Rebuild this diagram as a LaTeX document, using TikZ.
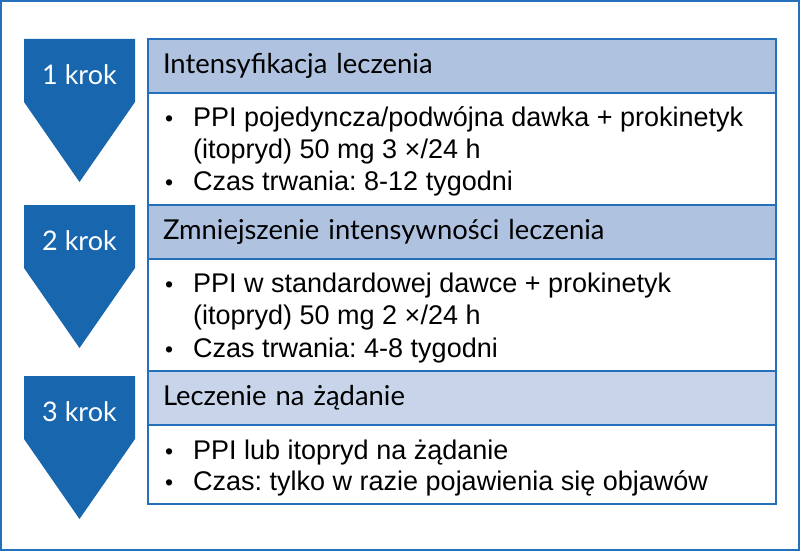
\documentclass[tikz,border=0pt]{standalone}
\usepackage{fontspec}
\setmainfont{Liberation Sans}
\newfontfamily\naglfont{Lato}
\frenchspacing
\definecolor{krokblue}{HTML}{1766AE}
\definecolor{ramka}{HTML}{2470BA}
\definecolor{nagl}{HTML}{AFC3E1}
\definecolor{naglj}{HTML}{C7D4EA}

\begin{document}
\begin{tikzpicture}
        [x=1pt,y=-1pt,
        kroklabel/.style={text=white,font=\naglfont\fontsize{27}{27}\selectfont},
        naglowek/.style={draw=ramka,line width=1.5pt,fill=nagl,anchor=north west,
            minimum width=628pt,minimum height=54pt,text width=598pt,inner xsep=15pt,
            align=left,outer sep=0pt,font=\naglfont\fontsize{27.4}{27.4}\selectfont},
        tresc/.style={draw=ramka,line width=1.5pt,fill=white,anchor=north west,
            minimum width=628pt,outer sep=0pt},
        linia/.style={anchor=base west,inner sep=0pt,font=\fontsize{27}{27}\selectfont},
        kropka/.style={anchor=base west,inner sep=0pt,font=\fontsize{23}{23}\selectfont}]
        \useasboundingbox (0,0) rectangle (800,551);
        \draw[ramka,line width=2pt] (1,1) rectangle (799,550);

        % strzalki z krokami
        \foreach \y/\k in {39/1,205/2,376/3} {
            \fill[krokblue] (24,\y) -- ++(111,0) -- ++(0,63) -- ++(-55.5,80)
                -- ++(-55.5,-80) -- cycle;
            \node[kroklabel] (k\k) at (79.5,\y+36) {\k{} krok};
        }

        % naglowki i tresci
        \node[naglowek] (h1) at (148,39) {Intensyfikacja leczenia};
        \node[tresc,minimum height=112pt] (b1) at (h1.south west) {};
        \node[naglowek] (h2) at (b1.south west) {Zmniejszenie intensywności leczenia};
        \node[tresc,minimum height=112pt] (b2) at (h2.south west) {};
        \node[naglowek,fill=naglj] (h3) at (b2.south west) {Leczenie na żądanie};
        \node[tresc,minimum height=79pt] (b3) at (h3.south west) {};

        \coordinate (lewo) at (165,0);
        \foreach \n/\y/\t in {
            a/126/{PPI pojedyncza/podwójna dawka + prokinetyk},
            b/158/{(itopryd) 50 mg 3 ×/24 h},
            c/190/{Czas trwania: 8-12 tygodni},
            d/292/{PPI w standardowej dawce + prokinetyk},
            e/324/{(itopryd) 50 mg 2 ×/24 h},
            f/357/{Czas trwania: 4-8 tygodni},
            g/459/{PPI lub itopryd na żądanie},
            h/490/{Czas: tylko w razie pojawienia się objawów}}
            \node[linia] (\n) at (193,\y) {\t};
        \foreach \n in {a,c,d,f,g,h}
            \node[kropka] at (lewo |- \n.base) {\textbullet};
\end{tikzpicture}
\end{document}
